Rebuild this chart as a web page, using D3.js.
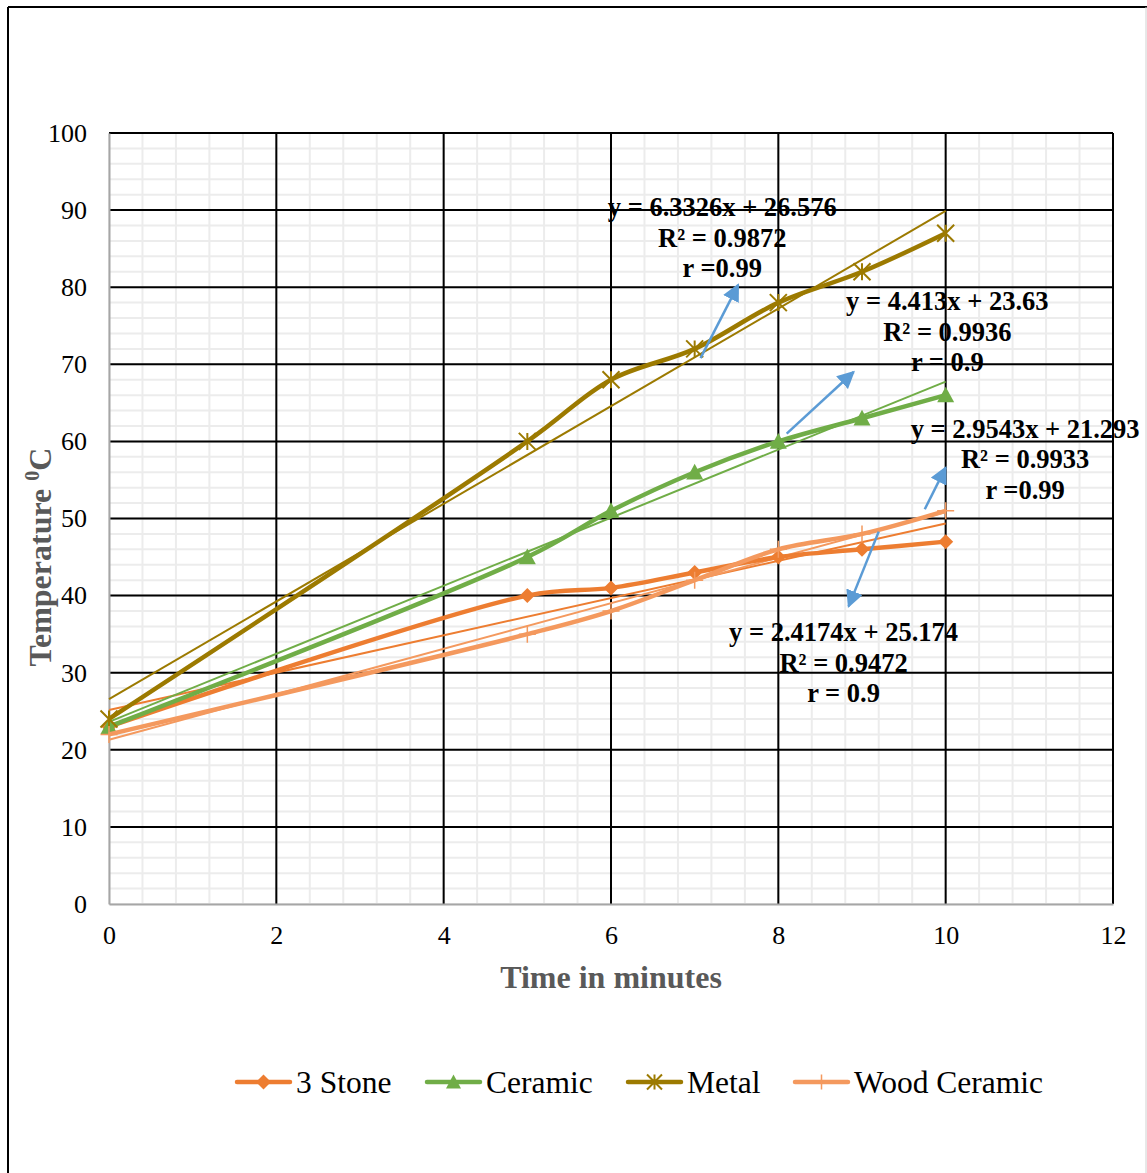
<!DOCTYPE html>
<html>
<head>
<meta charset="utf-8">
<script src="https://cdn.jsdelivr.net/npm/d3@7"></script>
<style>
  body { margin: 0; background: #fff; }
  svg, svg text { font-family: "Liberation Serif", "Times New Roman", Times, serif; }
</style>
</head>
<body>
<div id="chart"></div>
<script>
// --- data ---
const times = [0, 5, 6, 7, 8, 9, 10];
const stone3 = [23, 40, 41, 43, 45, 46, 47];
const ceramic = [23, 45, 51, 56, 60, 63, 66];
const metal = [24, 60, 68, 72, 78, 82, 87];
const woodCeramic = [22, 35, 38, 42, 46, 48, 51];

const seriesNames = ["3 Stone", "Ceramic", "Metal", "Wood Ceramic"];
const seriesColors = ["#ED7D31", "#70AD47", "#9C7A00", "#F4995E"];
const seriesMarkers = ["diamond", "triangle", "star", "plus"];

// trendline coefficients as printed on the chart [slope, intercept]
const trendSlope = [2.4174, 4.413, 6.3326, 2.9543];
const trendIntercept = [25.174, 23.63, 26.576, 21.293];

// annotation text, one block per series
const labelLines = [
  ["y = 2.4174x + 25.174", "R² = 0.9472", "r = 0.9"],
  ["y = 4.413x + 23.63", "R² = 0.9936", "r = 0.9"],
  ["y = 6.3326x + 26.576", "R² = 0.9872", "r =0.99"],
  ["y = 2.9543x + 21.293", "R² = 0.9933", "r =0.99"]
];
// label anchor (center x, first baseline y) in data units
const labelAt = [[8.78, 34.1], [10.02, 77.0], [7.33, 89.2], [10.95, 60.5]];
// arrows in data units: [x1, y1, x2, y2]
const arrows = [
  [9.2, 48.3, 8.84, 38.6],
  [8.1, 61.0, 8.9, 69.0],
  [7.07, 70.8, 7.52, 80.3],
  [9.75, 51.2, 10.0, 56.6]
];

const xTicks = [0, 2, 4, 6, 8, 10, 12];
const yTicks = [0, 10, 20, 30, 40, 50, 60, 70, 80, 90, 100];

const W = 1147, H = 1173;
const margin = {top: 133, right: 34, bottom: 269, left: 109};
const serif = "'Liberation Serif', 'Times New Roman', Times, serif";

const svg = d3.select("#chart").append("svg")
  .attr("width", W)
  .attr("height", H)
  .attr("font-family", serif);

// outer frame
svg.append("line").attr("x1", 8).attr("y1", 7).attr("x2", 8).attr("y2", H)
  .attr("stroke", "#000").attr("stroke-width", 2);
svg.append("line").attr("x1", 8).attr("y1", 7).attr("x2", W).attr("y2", 7)
  .attr("stroke", "#000").attr("stroke-width", 2);
svg.append("line").attr("x1", W - 1).attr("y1", 7).attr("x2", W - 1).attr("y2", H)
  .attr("stroke", "#d0d0d0").attr("stroke-width", 1);

const x = d3.scaleLinear().domain([0, 12]).range([margin.left, W - margin.right]);
const y = d3.scaleLinear().domain([0, 100]).range([H - margin.bottom, margin.top]);

// minor grid
svg.append("g")
  .attr("stroke", "#ececec").attr("stroke-width", 2)
  .selectAll("line")
  .data(d3.range(0, 12.01, 0.4))
  .join("line")
  .attr("x1", d => x(d)).attr("x2", d => x(d))
  .attr("y1", y(0)).attr("y2", y(100));
svg.append("g")
  .attr("stroke", "#ececec").attr("stroke-width", 2)
  .selectAll("line")
  .data(d3.range(0, 100.1, 2))
  .join("line")
  .attr("y1", d => y(d)).attr("y2", d => y(d))
  .attr("x1", x(0)).attr("x2", x(12));

// major grid
svg.append("g")
  .attr("stroke", "#000").attr("stroke-width", 2)
  .selectAll("line")
  .data(yTicks.filter(d => d > 0))
  .join("line")
  .attr("y1", d => y(d)).attr("y2", d => y(d))
  .attr("x1", x(0)).attr("x2", x(12));
svg.append("g")
  .attr("stroke", "#000").attr("stroke-width", 2)
  .selectAll("line")
  .data(xTicks.filter(d => d > 0))
  .join("line")
  .attr("x1", d => x(d)).attr("x2", d => x(d))
  .attr("y1", y(0)).attr("y2", y(100));

// axes
const xAxis = g => g
  .attr("transform", `translate(0, ${y(0)})`)
  .call(d3.axisBottom(x).tickValues(xTicks).tickSize(0).tickPadding(22))
  .attr("font-family", serif).attr("font-size", 26)
  .call(g => g.select(".domain").attr("stroke", "#a6a6a6").attr("stroke-width", 2))
  .call(g => g.selectAll("text").attr("fill", "#000"));

const yAxis = g => g
  .attr("transform", `translate(${x(0)}, 0)`)
  .call(d3.axisLeft(y).tickValues(yTicks).tickSize(0).tickPadding(22))
  .attr("font-family", serif).attr("font-size", 26)
  .call(g => g.select(".domain").attr("stroke", "#a6a6a6").attr("stroke-width", 2))
  .call(g => g.selectAll("text").attr("fill", "#000"));

svg.append("g").call(xAxis);
svg.append("g").call(yAxis);

// axis titles
svg.append("text")
  .attr("x", x(6)).attr("y", 988)
  .attr("text-anchor", "middle")
  .attr("font-size", 32).attr("font-weight", "bold").attr("fill", "#595959")
  .text("Time in minutes");

const yt = svg.append("text")
  .attr("transform", `translate(51, ${y(45)}) rotate(-90)`)
  .attr("text-anchor", "middle")
  .attr("font-size", 32).attr("font-weight", "bold").attr("fill", "#595959");
yt.append("tspan").text("Temperature ");
yt.append("tspan").attr("font-size", 20).attr("dy", -12).text("0");
yt.append("tspan").attr("dy", 12).text("C");

const allSeries = [stone3, ceramic, metal, woodCeramic];

// marker drawing
function drawMarker(g, type, color, size) {
  const s = size / 2;
  if (type === "diamond") {
    g.append("path").attr("d", `M0,${-s}L${s},0L0,${s}L${-s},0Z`).attr("fill", color);
  } else if (type === "triangle") {
    g.append("path").attr("d", `M0,${-s}L${s},${s * 0.85}L${-s},${s * 0.85}Z`).attr("fill", color);
  } else if (type === "star") {
    g.append("path")
      .attr("d", `M${-s},${-s}L${s},${s}M${-s},${s}L${s},${-s}M0,${-s}L0,${s}`)
      .attr("stroke", color).attr("stroke-width", 2).attr("fill", "none");
  } else if (type === "plus") {
    g.append("path")
      .attr("d", `M0,${-s}L0,${s}M${-s},0L${s},0`)
      .attr("stroke", color).attr("stroke-width", 1.5).attr("fill", "none");
  }
}

// trendlines (thin)
const plot = svg.append("g");
allSeries.forEach((vals, i) => {
  plot.append("line")
    .attr("x1", x(0)).attr("y1", y(trendIntercept[i]))
    .attr("x2", x(10)).attr("y2", y(trendSlope[i] * 10 + trendIntercept[i]))
    .attr("stroke", seriesColors[i]).attr("stroke-width", 2);
});

// smoothed series lines
const line = d3.line()
  .x(d => x(d[0]))
  .y(d => y(d[1]))
  .curve(d3.curveCatmullRom.alpha(0.5));

allSeries.forEach((vals, i) => {
  const pts = times.map((t, k) => [t, vals[k]]);
  plot.append("path")
    .attr("d", line(pts))
    .attr("fill", "none")
    .attr("stroke", seriesColors[i])
    .attr("stroke-width", 4.5)
    .attr("stroke-linejoin", "round");
  pts.forEach(p => {
    const g = plot.append("g").attr("transform", `translate(${x(p[0])}, ${y(p[1])})`);
    drawMarker(g, seriesMarkers[i], seriesColors[i], seriesMarkers[i] === "diamond" ? 15 : 17);
  });
});

// arrows
svg.append("defs").append("marker")
  .attr("id", "ah")
  .attr("viewBox", "0 0 10 10")
  .attr("refX", 9).attr("refY", 5)
  .attr("markerWidth", 7).attr("markerHeight", 7)
  .attr("markerUnits", "strokeWidth")
  .attr("orient", "auto")
  .append("path").attr("d", "M0,0L10,5L0,10Z").attr("fill", "#5B9BD5");

svg.append("g")
  .selectAll("line")
  .data(arrows)
  .join("line")
  .attr("x1", d => x(d[0])).attr("y1", d => y(d[1]))
  .attr("x2", d => x(d[2])).attr("y2", d => y(d[3]))
  .attr("stroke", "#5B9BD5").attr("stroke-width", 2.5)
  .attr("marker-end", "url(#ah)");

// trendline labels
labelLines.forEach((lines, i) => {
  const t = svg.append("text")
    .attr("text-anchor", "middle")
    .attr("font-size", 26.5).attr("font-weight", "bold").attr("fill", "#000");
  lines.forEach((s, k) => {
    t.append("tspan")
      .attr("x", x(labelAt[i][0]))
      .attr("y", y(labelAt[i][1]) + k * 30.5)
      .text(s);
  });
});

// legend
const legendX = [237, 427, 628, 795];
const legendY = 1082;
seriesNames.forEach((name, i) => {
  const g = svg.append("g").attr("transform", `translate(${legendX[i]}, ${legendY})`);
  g.append("line").attr("x1", 0).attr("x2", 53).attr("y1", 0).attr("y2", 0)
    .attr("stroke", seriesColors[i]).attr("stroke-width", 4.5).attr("stroke-linecap", "round");
  const m = g.append("g").attr("transform", "translate(26.5, 0)");
  drawMarker(m, seriesMarkers[i], seriesColors[i], 15);
  g.append("text").attr("x", 59).attr("y", 11)
    .attr("font-size", 31.5).attr("fill", "#000")
    .text(name);
});
</script>
</body>
</html>
